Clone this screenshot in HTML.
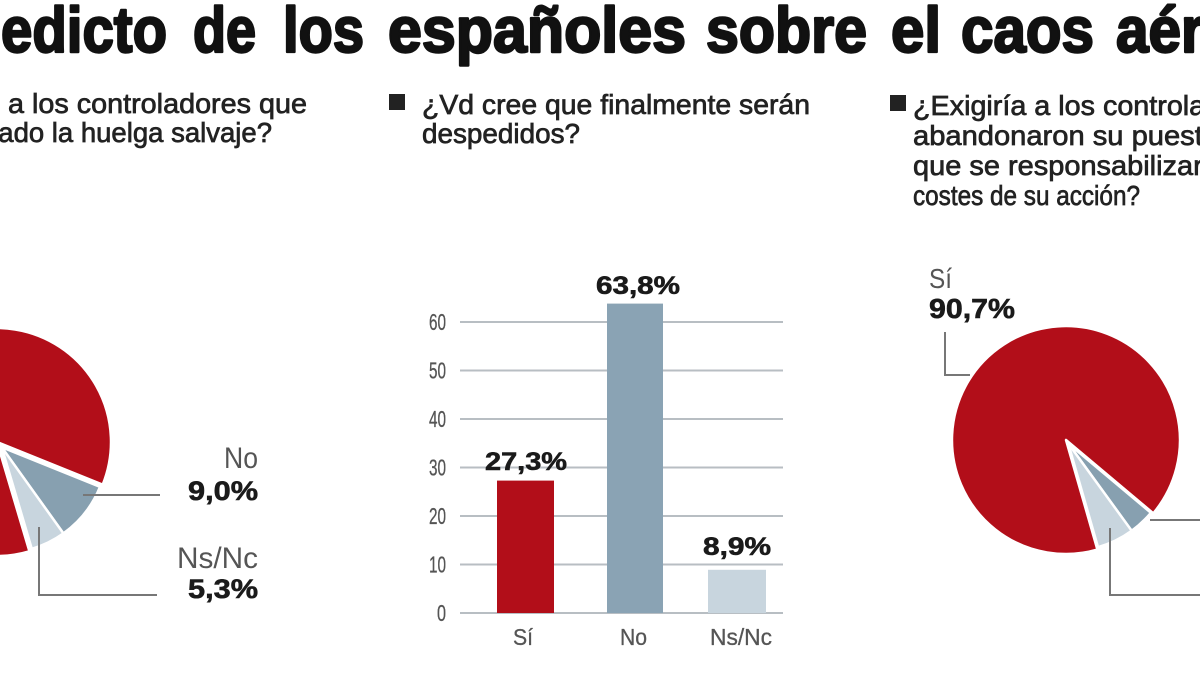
<!DOCTYPE html>
<html>
<head>
<meta charset="utf-8">
<style>
  html, body { margin: 0; padding: 0; background: #ffffff; }
  body { width: 1200px; height: 675px; overflow: hidden; }
  svg { display: block; }
  .t { font-family: "Liberation Sans", "DejaVu Sans", sans-serif; }
</style>
</head>
<body>
<svg width="1200" height="675" viewBox="0 0 1200 675" xmlns="http://www.w3.org/2000/svg">
  <rect x="0" y="0" width="1200" height="675" fill="#ffffff"/>

  <!-- Title -->
  <g class="t" font-size="64" font-weight="bold" fill="#111" stroke="#111" stroke-width="2.4" stroke-linejoin="round">
    <text x="1" y="52" textLength="166" lengthAdjust="spacingAndGlyphs">edicto</text>
    <text x="193" y="52" textLength="63" lengthAdjust="spacingAndGlyphs">de</text>
    <text x="283" y="52" textLength="81" lengthAdjust="spacingAndGlyphs">los</text>
    <text x="388" y="52" textLength="298" lengthAdjust="spacingAndGlyphs">españoles</text>
    <text x="706" y="52" textLength="161" lengthAdjust="spacingAndGlyphs">sobre</text>
    <text x="891" y="52" textLength="50" lengthAdjust="spacingAndGlyphs">el</text>
    <text x="961" y="52" textLength="133" lengthAdjust="spacingAndGlyphs">caos</text>
    <text x="1116" y="52" textLength="156" lengthAdjust="spacingAndGlyphs">aéreo</text>
  </g>

  <!-- Questions -->
  <g class="t" font-size="28" fill="#222" stroke="#222" stroke-width="0.7">
    <text x="-6" y="113" text-anchor="end">¿Despediría</text>
    <text x="8" y="113" textLength="299" lengthAdjust="spacingAndGlyphs">a los controladores que</text>
    <text x="-173" y="142" textLength="445" lengthAdjust="spacingAndGlyphs">hayan secundado la huelga salvaje?</text>

    <text x="422" y="114" textLength="388" lengthAdjust="spacingAndGlyphs">¿Vd cree que finalmente serán</text>
    <text x="422" y="143" textLength="158" lengthAdjust="spacingAndGlyphs">despedidos?</text>

    <text x="913" y="115" textLength="364" lengthAdjust="spacingAndGlyphs">¿Exigiría a los controladores</text>
    <text x="913" y="145" textLength="306" lengthAdjust="spacingAndGlyphs">abandonaron su puesto</text>
    <text x="913" y="175" textLength="322" lengthAdjust="spacingAndGlyphs">que se responsabilizaran</text>
    <text x="913" y="205" textLength="227" lengthAdjust="spacingAndGlyphs">costes de su acción?</text>
  </g>
  <rect x="389" y="94" width="16" height="16" fill="#222"/>
  <rect x="890" y="95" width="16" height="16" fill="#222"/>

  <!-- Left pie -->
  <g stroke="#ffffff" stroke-width="2.5" stroke-linejoin="round">
    <path d="M -3 442 L 29.4 551.3 A 114 114 0 1 1 102.7 484.7 Z" fill="#b20e19"/>
    <path d="M 1.7 447.2 L 100 486.9 A 106 106 0 0 1 63.4 533.4 Z" fill="#87a0b0"/>
    <path d="M 1.7 447.2 L 63.4 533.4 A 106 106 0 0 1 31.8 548.8 Z" fill="#c8d5de"/>
  </g>
  <g fill="none" stroke="#777" stroke-width="2">
    <line x1="83" y1="495" x2="160" y2="495"/>
    <polyline points="39,527 39,595 157,595"/>
  </g>
  <g class="t">
    <text x="224" y="468" font-size="30" fill="#555" textLength="34" lengthAdjust="spacingAndGlyphs">No</text>
    <text x="188" y="500" font-size="27" font-weight="bold" fill="#1a1a1a" stroke="#1a1a1a" stroke-width="0.6" textLength="70" lengthAdjust="spacingAndGlyphs">9,0%</text>
    <text x="177" y="568" font-size="30" fill="#555" textLength="81" lengthAdjust="spacingAndGlyphs">Ns/Nc</text>
    <text x="188" y="598" font-size="27" font-weight="bold" fill="#1a1a1a" stroke="#1a1a1a" stroke-width="0.6" textLength="70" lengthAdjust="spacingAndGlyphs">5,3%</text>
  </g>

  <!-- Bar chart gridlines -->
  <g stroke="#b8bec3" stroke-width="2">
    <line x1="460" y1="322" x2="783" y2="322"/>
    <line x1="460" y1="370.5" x2="783" y2="370.5"/>
    <line x1="460" y1="419" x2="783" y2="419"/>
    <line x1="460" y1="467.5" x2="783" y2="467.5"/>
    <line x1="460" y1="516" x2="783" y2="516"/>
    <line x1="460" y1="564.5" x2="783" y2="564.5"/>
    <line x1="460" y1="613" x2="783" y2="613"/>
  </g>
  <g class="t" font-size="23" fill="#555" stroke="#555" stroke-width="0.3">
    <text x="429" y="330" textLength="17" lengthAdjust="spacingAndGlyphs">60</text>
    <text x="429" y="378.5" textLength="17" lengthAdjust="spacingAndGlyphs">50</text>
    <text x="429" y="427" textLength="17" lengthAdjust="spacingAndGlyphs">40</text>
    <text x="429" y="475.5" textLength="17" lengthAdjust="spacingAndGlyphs">30</text>
    <text x="429" y="524" textLength="17" lengthAdjust="spacingAndGlyphs">20</text>
    <text x="429" y="572.5" textLength="17" lengthAdjust="spacingAndGlyphs">10</text>
    <text x="437" y="621" textLength="9" lengthAdjust="spacingAndGlyphs">0</text>
  </g>

  <!-- Bars -->
  <rect x="497" y="480.6" width="57" height="132.4" fill="#b20e19"/>
  <rect x="607" y="303.6" width="56" height="309.4" fill="#8aa3b4"/>
  <rect x="708" y="569.8" width="58" height="43.2" fill="#c8d5de"/>

  <g class="t" font-size="25" font-weight="bold" fill="#1a1a1a" stroke="#1a1a1a" stroke-width="0.6">
    <text x="485" y="470" textLength="82" lengthAdjust="spacingAndGlyphs">27,3%</text>
    <text x="596" y="294" textLength="84" lengthAdjust="spacingAndGlyphs">63,8%</text>
    <text x="703" y="555" textLength="68" lengthAdjust="spacingAndGlyphs">8,9%</text>
  </g>
  <g class="t" font-size="23" fill="#555" stroke="#555" stroke-width="0.3">
    <text x="513" y="645" textLength="20" lengthAdjust="spacingAndGlyphs">Sí</text>
    <text x="620" y="645" textLength="27" lengthAdjust="spacingAndGlyphs">No</text>
    <text x="710" y="645" textLength="62" lengthAdjust="spacingAndGlyphs">Ns/Nc</text>
  </g>

  <!-- Right pie -->
  <g stroke="#ffffff" stroke-width="2.5" stroke-linejoin="round">
    <path d="M 1066 440 L 1097.4 549.6 A 114 114 0 1 1 1153.3 513.3 Z" fill="#b20e19"/>
    <path d="M 1068.2 443.4 L 1150.9 512.8 A 108 108 0 0 1 1131.7 530.8 Z" fill="#87a0b0"/>
    <path d="M 1068.2 443.4 L 1131.7 530.8 A 108 108 0 0 1 1098 547.2 Z" fill="#c8d5de"/>
  </g>
  <g fill="none" stroke="#777" stroke-width="2">
    <polyline points="970,375 945,375 945,332"/>
    <line x1="1150" y1="520" x2="1200" y2="520"/>
    <polyline points="1110,528 1110,595 1200,595"/>
  </g>
  <g class="t">
    <text x="929" y="288" font-size="28" fill="#555" textLength="23" lengthAdjust="spacingAndGlyphs">Sí</text>
    <text x="929" y="318" font-size="28" font-weight="bold" fill="#1a1a1a" stroke="#1a1a1a" stroke-width="0.6" textLength="86" lengthAdjust="spacingAndGlyphs">90,7%</text>
  </g>
</svg>
</body>
</html>
